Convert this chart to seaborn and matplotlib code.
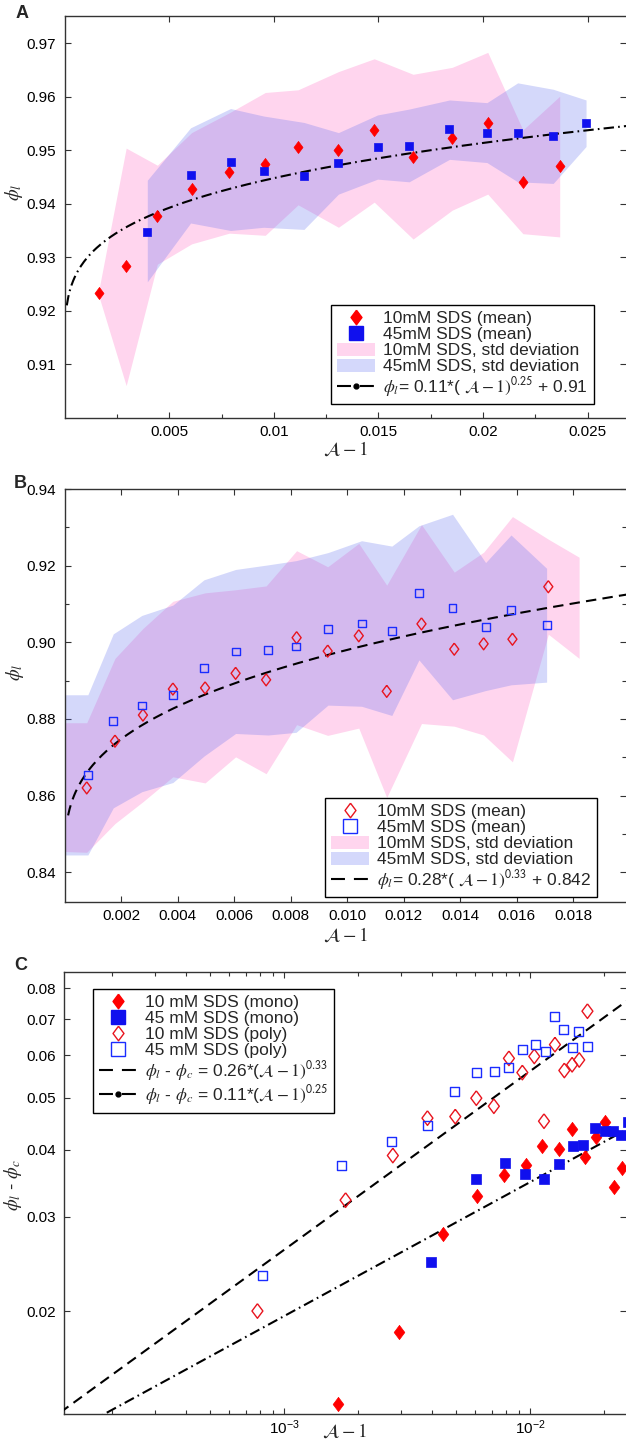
import numpy as np
import pandas as pd
import matplotlib
matplotlib.use("Agg")
import matplotlib.pyplot as plt
import seaborn as sns
from matplotlib.lines import Line2D
from matplotlib.patches import Patch
from matplotlib.ticker import (FixedLocator, NullLocator, FormatStrFormatter,
                               LogLocator, LogFormatterSciNotation, NullFormatter)

# ---------------- data: panel A (monodisperse) ----------------
xA10 = [0.00166, 0.00294, 0.00443, 0.00607, 0.00787, 0.00959, 0.01116, 0.01309,
        0.01480, 0.01666, 0.01853, 0.02023, 0.02191, 0.02367]
phiA10 = [0.9234, 0.9283, 0.9378, 0.9428, 0.9459, 0.9475, 0.9506, 0.9501,
          0.9538, 0.9488, 0.9522, 0.9551, 0.9441, 0.9470]
hiA10 = [0.9244, 0.9504, 0.9472, 0.9533, 0.9570, 0.9608, 0.9613, 0.9647,
         0.9671, 0.9642, 0.9655, 0.9683, 0.9538, 0.9601]
loA10 = [0.9224, 0.9060, 0.9287, 0.9325, 0.9345, 0.9341, 0.9398, 0.9356,
         0.9403, 0.9334, 0.9388, 0.9418, 0.9344, 0.9338]

xA45 = [0.00395, 0.00602, 0.00793, 0.00951, 0.01144, 0.01309, 0.01496, 0.01647,
        0.01840, 0.02019, 0.02166, 0.02336, 0.02493]
phiA45 = [0.9347, 0.9453, 0.9478, 0.9461, 0.9452, 0.9476, 0.9506, 0.9508,
          0.9539, 0.9533, 0.9533, 0.9526, 0.9551]
hiA45 = [0.9444, 0.9542, 0.9578, 0.9564, 0.9552, 0.9533, 0.9566, 0.9577,
         0.9594, 0.9589, 0.9626, 0.9614, 0.9594]
loA45 = [0.9254, 0.9364, 0.9350, 0.9356, 0.9352, 0.9418, 0.9446, 0.9441,
         0.9483, 0.9477, 0.9441, 0.9438, 0.9507]

# ---------------- data: panel B (polydisperse) ----------------
xB10 = [0.00078, 0.00178, 0.00277, 0.00383, 0.00497, 0.00605, 0.00713, 0.00821,
        0.00931, 0.01041, 0.01140, 0.01263, 0.01379, 0.01483, 0.01585, 0.01712]
phiB10 = [0.8620, 0.8742, 0.8810, 0.8878, 0.8881, 0.8919, 0.8902, 0.9012,
          0.8977, 0.9017, 0.8872, 0.9048, 0.8982, 0.8996, 0.9008, 0.9145]
xB45 = [0.00082, 0.00172, 0.00273, 0.00383, 0.00493, 0.00605, 0.00720, 0.00819,
        0.00932, 0.01051, 0.01158, 0.01254, 0.01373, 0.01490, 0.01580, 0.01706]
phiB45 = [0.8653, 0.8794, 0.8835, 0.8863, 0.8933, 0.8976, 0.8980, 0.8989,
          0.9035, 0.9049, 0.9030, 0.9129, 0.9090, 0.9040, 0.9084, 0.9044]

bandB10_x = [0.0, 0.00078, 0.00178, 0.00277, 0.00383, 0.00497, 0.00605, 0.00713, 0.00821,
             0.00931, 0.01041, 0.01140, 0.01263, 0.01379, 0.01483, 0.01585, 0.01712, 0.01821]
bandB10_hi = [0.8790, 0.8790, 0.8958, 0.9036, 0.9107, 0.9129, 0.9137, 0.9147, 0.9239,
              0.9197, 0.9258, 0.9149, 0.9307, 0.9183, 0.9235, 0.9328, 0.9269, 0.9222]
bandB10_lo = [0.8454, 0.8452, 0.8527, 0.8584, 0.8649, 0.8633, 0.8701, 0.8657, 0.8785,
              0.8757, 0.8776, 0.8595, 0.8788, 0.8781, 0.8758, 0.8688, 0.9021, 0.8958]
bandB45_x = [0.0, 0.00082, 0.00172, 0.00273, 0.00383, 0.00493, 0.00605, 0.00720, 0.00819,
             0.00932, 0.01051, 0.01158, 0.01254, 0.01373, 0.01490, 0.01580, 0.01706]
bandB45_hi = [0.8863, 0.8863, 0.9022, 0.9070, 0.9097, 0.9163, 0.9190, 0.9202, 0.9213,
              0.9234, 0.9265, 0.9251, 0.9304, 0.9334, 0.9208, 0.9280, 0.9193]
bandB45_lo = [0.8445, 0.8445, 0.8568, 0.8610, 0.8634, 0.8703, 0.8762, 0.8758, 0.8765,
              0.8836, 0.8833, 0.8809, 0.8954, 0.8850, 0.8874, 0.8889, 0.8896]

# critical packing fractions used for panel C (phi_l - phi_c)
PHI_C_MONO = 0.91
PHI_C_POLY = 0.842

# fit curves
FIT_A = (0.11, 0.25, 0.91)      # coef, exponent, offset
FIT_B = (0.26, 1 / 3, 0.842)
FIT_C_POLY = (0.26, 1 / 3)
FIT_C_MONO = (0.11, 0.25)

# tick labels
ticksA_x = [0.005, 0.01, 0.015, 0.02, 0.025]
ticksA_y = [0.91, 0.92, 0.93, 0.94, 0.95, 0.96, 0.97]
ticksB_x = [0.002, 0.004, 0.006, 0.008, 0.010, 0.012, 0.014, 0.016, 0.018]
ticksB_y = [0.84, 0.86, 0.88, 0.90, 0.92, 0.94]
ticksC_y = [0.02, 0.03, 0.04, 0.05, 0.06, 0.07, 0.08]

# ---------------- style ----------------
sns.set_style("ticks")
plt.rcParams["font.family"] = ["Liberation Sans", "DejaVu Sans"]
plt.rcParams["mathtext.fontset"] = "stix"
plt.rcParams["axes.edgecolor"] = "#333333"
plt.rcParams["axes.linewidth"] = 1.0

RED = "#ff0000"
BLUE = "#1010ee"
RED_O = "#e8141e"
BLUE_O = "#1a2cff"
PINK = "#ffd5ee"
BLUE_BAND = (0.376, 0.435, 0.94, 0.27)
BLUE_ONLY = "#d4d8fb"
DIAMOND = [(0, 1), (0.75, 0), (0, -1), (-0.75, 0), (0, 1)]
LW = 1.5
DASH_DOT = (0, (5, 2, 0.8, 2))
DASHED = (0, (5, 3))
LEG_DASH = (0, (6.7, 4.3))

W, H = 626, 1441
fig = plt.figure(figsize=(W / 100, H / 100), dpi=100)


def axes_px(left, top, bottom, right=626):
    return fig.add_axes([left / W, 1 - bottom / H, (right - left) / W, (bottom - top) / H])


axA = axes_px(64.7, 16, 417.7)
axB = axes_px(64.7, 489, 901.7)
axC = axes_px(64.0, 971.7, 1414)


def style_axes(ax):
    ax.spines["right"].set_visible(False)
    ax.tick_params(which="both", direction="in", top=True, right=True,
                   colors="#333333", labelcolor="black", labelsize=11)
    ax.tick_params(which="major", length=4.5, width=0.8)
    ax.tick_params(which="minor", length=3, width=0.8)
    ax.tick_params(axis="y", pad=6)
    ax.tick_params(axis="x", pad=5)


def fit_df(x, coef, expo, off=0.0):
    x = np.asarray(x)
    return pd.DataFrame({"x": x, "y": coef * x ** expo + off})


def legend_box(ax, handles, labels, left_px, top_px, fs=12.5):
    leg = ax.legend(handles, labels, loc="upper left",
                    bbox_to_anchor=(left_px / W, 1 - top_px / H),
                    bbox_transform=fig.transFigure, borderaxespad=0,
                    frameon=True, fancybox=False, framealpha=1, edgecolor="black",
                    fontsize=fs, handlelength=2.2, handleheight=0.8,
                    handletextpad=0.5, labelspacing=0.02, borderpad=0.32)
    leg.get_frame().set_linewidth(1.0)
    for t in leg.get_texts():
        t.set_math_fontfamily("stix")
    return leg


# ================= Panel A =================
ax = axA
ax.fill_between(xA10, loA10, hiA10, color=PINK, lw=0, zorder=1)
ax.fill_between(xA45, loA45, hiA45, color=BLUE_BAND, lw=0, zorder=2)
sns.lineplot(data=fit_df(np.linspace(0.0001, 0.03, 400), *FIT_A), x="x", y="y",
             ax=ax, color="black", lw=LW, linestyle=DASH_DOT, zorder=3)
sns.scatterplot(x=xA10, y=phiA10, ax=ax, marker=DIAMOND, s=75, color=RED,
                edgecolor=RED, linewidth=0.5, zorder=4)
sns.scatterplot(x=xA45, y=phiA45, ax=ax, marker="s", s=30, color=BLUE,
                edgecolor=BLUE, linewidth=0.5, zorder=4)
ax.set_xlim(0, 0.02684)
ax.set_ylim(0.9, 0.9751)
ax.xaxis.set_major_locator(FixedLocator(ticksA_x))
ax.xaxis.set_major_formatter(FormatStrFormatter("%g"))
ax.xaxis.set_minor_locator(FixedLocator([0.0025, 0.0075, 0.0125, 0.0175, 0.0225]))
ax.yaxis.set_major_locator(FixedLocator(ticksA_y))
ax.yaxis.set_major_formatter(FormatStrFormatter("%.2f"))
style_axes(ax)
ax.tick_params(axis="x", which="minor", top=False)

hA = [Line2D([], [], ls="none", marker=DIAMOND, ms=10.5, mfc=RED, mec=RED),
      Line2D([], [], ls="none", marker="s", ms=9.5, mfc=BLUE, mec=BLUE),
      Patch(fc=PINK, ec="none"),
      Patch(fc=BLUE_ONLY, ec="none"),
      Line2D([], [], color="black", lw=LW, ls=LEG_DASH, marker="o", ms=3.5)]
lA = ["10mM SDS (mean)", "45mM SDS (mean)", "10mM SDS, std deviation",
      "45mM SDS, std deviation",
      r"$\phi_l$= 0.11*( $\mathcal{A}-1)^{\mathsf{0.25}}$ + 0.91"]
legend_box(ax, hA, lA, 331, 305)

# ================= Panel B =================
ax = axB
ax.fill_between(bandB10_x, bandB10_lo, bandB10_hi, color=PINK, lw=0, zorder=1)
ax.fill_between(bandB45_x, bandB45_lo, bandB45_hi, color=BLUE_BAND, lw=0, zorder=2)
sns.lineplot(data=fit_df(np.linspace(0.00012, 0.021, 400), *FIT_B), x="x", y="y",
             ax=ax, color="black", lw=LW, linestyle=DASHED, zorder=3)
sns.scatterplot(x=xB10, y=phiB10, ax=ax, marker=DIAMOND, s=75, color=RED_O,
                facecolor="none", edgecolor=RED_O, linewidth=1.0, zorder=4)
sns.scatterplot(x=xB45, y=phiB45, ax=ax, marker="s", s=32, color=BLUE_O,
                facecolor="none", edgecolor=BLUE_O, linewidth=1.0, zorder=4)
ax.set_xlim(0, 0.01987)
ax.set_ylim(0.8323, 0.94)
ax.xaxis.set_major_locator(FixedLocator(ticksB_x))
ax.xaxis.set_major_formatter(FormatStrFormatter("%.3f"))
ax.yaxis.set_major_locator(FixedLocator(ticksB_y))
ax.yaxis.set_major_formatter(FormatStrFormatter("%.2f"))
ax.yaxis.set_minor_locator(FixedLocator([0.85, 0.87, 0.89, 0.91, 0.93]))
style_axes(ax)

hB = [Line2D([], [], ls="none", marker=DIAMOND, ms=10.5, mfc="none", mec=RED_O, mew=1.0),
      Line2D([], [], ls="none", marker="s", ms=9.5, mfc="none", mec=BLUE_O, mew=1.0),
      Patch(fc=PINK, ec="none"),
      Patch(fc=BLUE_ONLY, ec="none"),
      Line2D([], [], color="black", lw=LW, ls=LEG_DASH)]
lB = ["10mM SDS (mean)", "45mM SDS (mean)", "10mM SDS, std deviation",
      "45mM SDS, std deviation",
      r"$\phi_l$= 0.28*( $\mathcal{A}-1)^{\mathsf{0.33}}$ + 0.842"]
legend_box(ax, hB, lB, 325, 798)

# ================= Panel C =================
ax = axC
ax.set_xscale("log")
ax.set_yscale("log")
xfit = np.logspace(-4.2, -1.5, 300)
sns.lineplot(data=fit_df(xfit, *FIT_C_POLY), x="x", y="y", ax=ax, color="black",
             lw=LW, linestyle=DASHED, zorder=3)
sns.lineplot(data=fit_df(xfit, *FIT_C_MONO), x="x", y="y", ax=ax, color="black",
             lw=LW, linestyle=DASH_DOT, zorder=3)
sns.scatterplot(x=xA10, y=np.array(phiA10) - PHI_C_MONO, ax=ax, marker=DIAMOND, s=105,
                color=RED, edgecolor=RED, linewidth=0.5, zorder=4)
sns.scatterplot(x=xA45, y=np.array(phiA45) - PHI_C_MONO, ax=ax, marker="s", s=48,
                color=BLUE, edgecolor=BLUE, linewidth=0.5, zorder=4)
sns.scatterplot(x=xB10, y=np.array(phiB10) - PHI_C_POLY, ax=ax, marker=DIAMOND, s=110,
                color=RED_O, facecolor="none", edgecolor=RED_O, linewidth=1.0, zorder=4)
sns.scatterplot(x=xB45, y=np.array(phiB45) - PHI_C_POLY, ax=ax, marker="s", s=42,
                color=BLUE_O, facecolor="none", edgecolor=BLUE_O, linewidth=1.0, zorder=4)
ax.set_xlim(1.276e-4, 0.02456)
ax.set_ylim(0.01285, 0.0859)
ax.xaxis.set_major_locator(LogLocator(base=10))
ax.xaxis.set_major_formatter(LogFormatterSciNotation())
ax.xaxis.set_minor_locator(LogLocator(base=10, subs=np.arange(2, 10)))
ax.xaxis.set_minor_formatter(NullFormatter())
ax.yaxis.set_major_locator(FixedLocator(ticksC_y))
ax.yaxis.set_major_formatter(FormatStrFormatter("%.2f"))
ax.yaxis.set_minor_locator(NullLocator())
ax.yaxis.set_minor_formatter(NullFormatter())
style_axes(ax)
ax.tick_params(axis="x", pad=3)

hC = [Line2D([], [], ls="none", marker=DIAMOND, ms=10.5, mfc=RED, mec=RED),
      Line2D([], [], ls="none", marker="s", ms=9.5, mfc=BLUE, mec=BLUE),
      Line2D([], [], ls="none", marker=DIAMOND, ms=10.5, mfc="none", mec=RED_O, mew=1.0),
      Line2D([], [], ls="none", marker="s", ms=9.5, mfc="none", mec=BLUE_O, mew=1.0),
      Line2D([], [], color="black", lw=LW, ls=LEG_DASH),
      Line2D([], [], color="black", lw=LW, ls=LEG_DASH, marker="o", ms=3.5)]
lC = ["10 mM SDS (mono)", "45 mM SDS (mono)", "10 mM SDS (poly)", "45 mM SDS (poly)",
      r"$\phi_l$ - $\phi_c$ = 0.26*($\mathcal{A}-1)^{\mathsf{0.33}}$",
      r"$\phi_l$ - $\phi_c$ = 0.11*($\mathcal{A}-1)^{\mathsf{0.25}}$"]
legend_box(ax, hC, lC, 93, 989)

# ---------------- labels ----------------
for ax, ylab, (lx, ly), xly in [
        (axA, r"$\phi_l$", (-0.0903, 0.562), -0.080),
        (axB, r"$\phi_l$", (-0.0885, 0.557), -0.081),
        (axC, r"$\phi_l$ - $\phi_c$", (-0.090, 0.518), -0.040)]:
    ax.set_ylabel(ylab, fontsize=13.5, math_fontfamily="stix")
    ax.yaxis.set_label_coords(lx, ly)
    ax.yaxis.label.set_va("center")
    ax.set_xlabel(r"$\mathcal{A}-1$", fontsize=14, math_fontfamily="stix")
    ax.xaxis.set_label_coords(0.5, xly)
    ax.xaxis.label.set_va("center")

for letter, (px, py) in zip("ABC", [(22, 14), (20, 483), (21, 965)]):
    fig.text(px / W, 1 - py / H, letter, fontsize=13, fontweight="bold",
             ha="center", va="center")

fig.savefig("out.png", dpi=100)
